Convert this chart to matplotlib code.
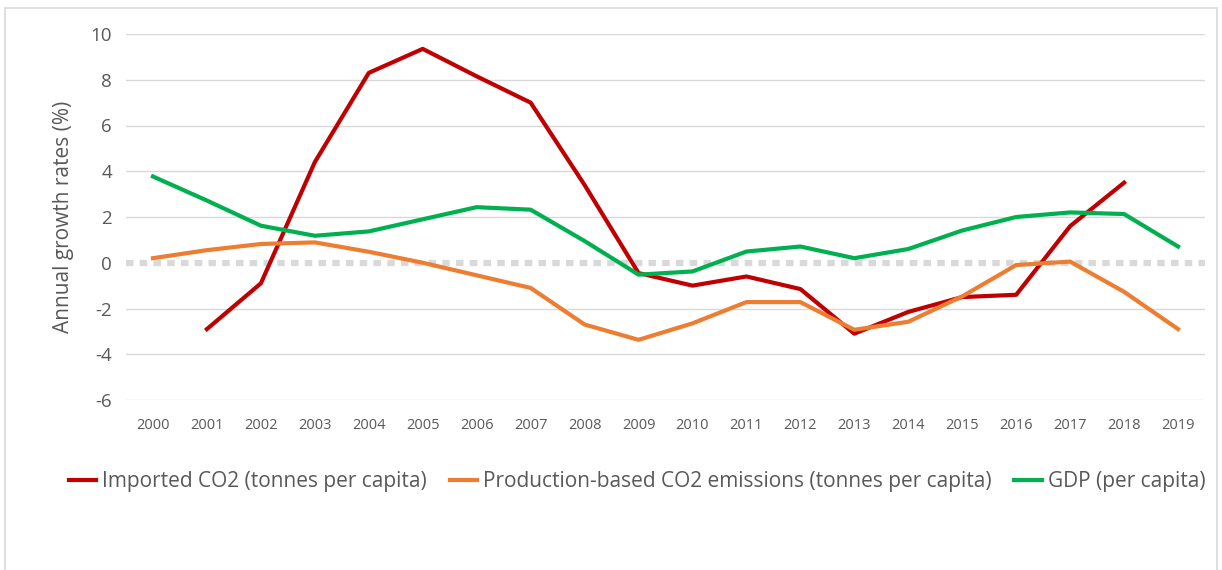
import matplotlib
matplotlib.use("Agg")
import matplotlib.pyplot as plt
from matplotlib.patches import Rectangle

# Data
years = list(range(2000, 2020))
imported_co2 = [None, -2.9, -0.9, 4.4, 8.3, 9.35, 8.15, 7.0, 3.4, -0.45,
                -1.0, -0.6, -1.15, -3.1, -2.15, -1.5, -1.4, 1.6, 3.5, None]
production_co2 = [0.2, 0.55, 0.82, 0.89, 0.48, 0.0, -0.55, -1.1, -2.7, -3.37,
                  -2.65, -1.72, -1.72, -2.93, -2.58, -1.47, -0.1, 0.05, -1.27, -2.9]
gdp = [3.77, 2.72, 1.62, 1.18, 1.37, 1.9, 2.43, 2.32, 0.95, -0.52,
       -0.38, 0.49, 0.71, 0.2, 0.6, 1.41, 2.0, 2.2, 2.13, 0.71]
labels = ["Imported CO2 (tonnes per capita)",
          "Production-based CO2 emissions (tonnes per capita)",
          "GDP (per capita)"]
colors = ["#c00000", "#ed7d31", "#00b050"]
yticks = [-6, -4, -2, 0, 2, 4, 6, 8, 10]

plt.rcParams["font.family"] = ["Open Sans", "DejaVu Sans"]
W, H = 1222, 570
fig = plt.figure(figsize=(W / 100, H / 100), dpi=100)
ax = fig.add_axes([126 / W, 1 - 400 / H, (1205 - 126) / W, (400 - 34) / H])

# light frame around the chart
fig.patches.append(Rectangle((5 / W, -0.05), (W - 10) / W, 1 - 8 / H + 0.05,
                             transform=fig.transFigure, fill=False,
                             edgecolor="#d9d9d9", linewidth=1.2))

# gridlines; zero line is a thick dotted grey line
for y in yticks:
    if y == 0:
        ax.axhline(0, color="#d9d9d9", linewidth=4.5, linestyle=(0, (1.2, 1.0)), zorder=1)
    else:
        ax.axhline(y, color="#d9d9d9", linewidth=1.0, zorder=1)

x = list(range(len(years)))
for series, lab, col in zip([imported_co2, production_co2, gdp], labels, colors):
    xs = [i for i, v in zip(x, series) if v is not None]
    ys = [v for v in series if v is not None]
    ax.plot(xs, ys, color=col, linewidth=3.0, label=lab, zorder=3)

ax.set_xlim(-0.5, len(years) - 0.5)
ax.set_ylim(-6, 10)
ax.set_yticks(yticks)
ax.set_yticklabels([str(v) for v in yticks], fontsize=13.5, color="#595959")
ax.set_xticks(x)
ax.set_xticklabels([str(yr) for yr in years], fontsize=10.5, color="#595959")
ax.tick_params(axis="both", length=0)
ax.tick_params(axis="x", pad=13)
ax.tick_params(axis="y", pad=10)
for s in ax.spines.values():
    s.set_visible(False)

ax.set_ylabel("Annual growth rates (%)", fontsize=15, color="#595959", labelpad=12)

ax.legend(loc="center", bbox_to_anchor=(637 / W, 1 - 482 / H),
          bbox_transform=fig.transFigure, ncol=3, frameon=False,
          fontsize=15, labelcolor="#595959", handlelength=1.3,
          handletextpad=0.3, columnspacing=1.1)

fig.savefig("out.png", dpi=100)
